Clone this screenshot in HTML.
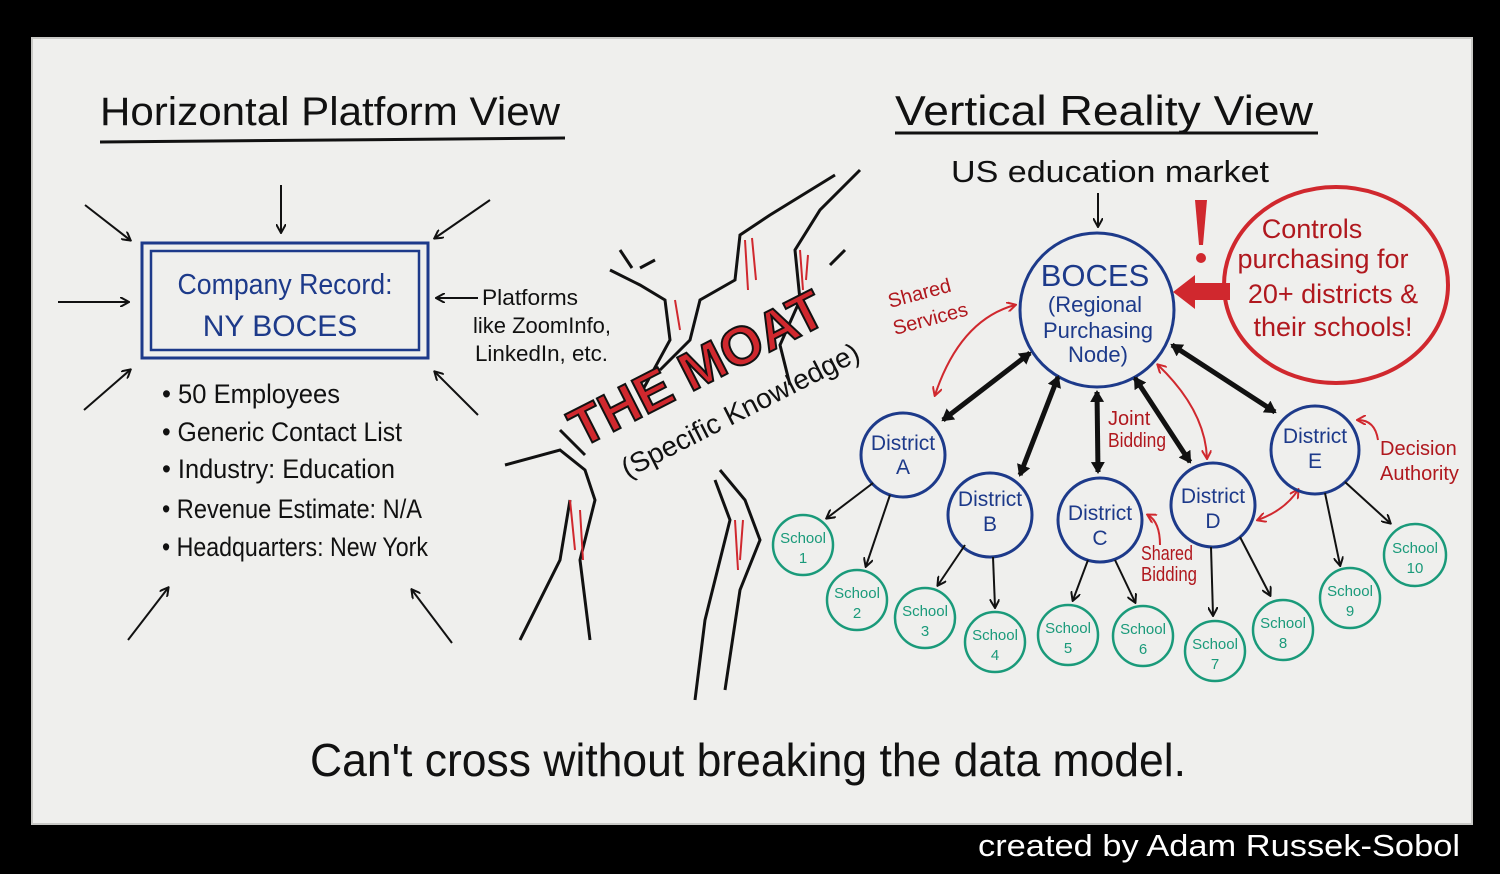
<!DOCTYPE html>
<html><head><meta charset="utf-8"><style>
html,body{margin:0;padding:0;background:#000;width:1500px;height:874px;overflow:hidden}
svg{display:block}
text{font-family:"Liberation Sans",sans-serif}
</style></head><body>
<svg width="1500" height="874" viewBox="0 0 1500 874" xmlns="http://www.w3.org/2000/svg">
<defs>
<marker id="ak" markerWidth="10" markerHeight="10" refX="8" refY="5" orient="auto" markerUnits="userSpaceOnUse"><path d="M0,0 L9,5 L0,10" fill="none" stroke="#111" stroke-width="2"/></marker>
<marker id="akb" markerWidth="14" markerHeight="14" refX="10" refY="7" orient="auto-start-reverse" markerUnits="userSpaceOnUse"><path d="M0,0 L12,7 L0,14 Z" fill="#111"/></marker>
<marker id="ar" markerWidth="10" markerHeight="10" refX="8" refY="5" orient="auto-start-reverse" markerUnits="userSpaceOnUse"><path d="M0,0 L9,5 L0,10" fill="none" stroke="#d0282e" stroke-width="2"/></marker>
</defs>
<rect x="32" y="38" width="1440" height="786" fill="#efefed"/>
<rect x="32" y="38" width="1440" height="786" fill="none" stroke="#c9c9c6" stroke-width="2"/>
<text x="978" y="856" font-size="31" fill="#fff" textLength="482" lengthAdjust="spacingAndGlyphs">created by Adam Russek-Sobol</text>

<!-- left -->
<text x="100" y="125" font-size="40" fill="#111" textLength="460" lengthAdjust="spacingAndGlyphs">Horizontal Platform View</text>
<line x1="100" y1="142" x2="565" y2="138" stroke="#111" stroke-width="3"/>
<rect x="142" y="243" width="286" height="115" fill="none" stroke="#1d3a8a" stroke-width="3"/>
<rect x="151" y="251" width="268" height="99" fill="none" stroke="#1d3a8a" stroke-width="2.5"/>
<text x="285" y="294" font-size="29" fill="#1d3a8a" text-anchor="middle" textLength="215" lengthAdjust="spacingAndGlyphs">Company Record:</text>
<text x="280" y="336" font-size="30" fill="#1d3a8a" text-anchor="middle">NY BOCES</text>
<g stroke="#111" stroke-width="2" marker-end="url(#ak)">
<line x1="281" y1="185" x2="281" y2="232"/>
<line x1="85" y1="205" x2="130" y2="240"/>
<line x1="58" y1="302" x2="128" y2="302"/>
<line x1="84" y1="410" x2="130" y2="370"/>
<line x1="490" y1="200" x2="435" y2="238"/>
<line x1="478" y1="298" x2="437" y2="298"/>
<line x1="478" y1="415" x2="435" y2="372"/>
<line x1="128" y1="640" x2="168" y2="588"/>
<line x1="452" y1="643" x2="412" y2="590"/>
</g>
<g font-size="22" fill="#111"><text x="482" y="305" textLength="96" lengthAdjust="spacingAndGlyphs">Platforms</text><text x="473" y="333" textLength="138" lengthAdjust="spacingAndGlyphs">like ZoomInfo,</text><text x="475" y="361" textLength="133" lengthAdjust="spacingAndGlyphs">LinkedIn, etc.</text></g>
<g font-size="27" fill="#111">
<text x="162" y="403" textLength="178" lengthAdjust="spacingAndGlyphs">• 50 Employees</text>
<text x="162" y="441" textLength="240" lengthAdjust="spacingAndGlyphs">• Generic Contact List</text>
<text x="162" y="478" textLength="233" lengthAdjust="spacingAndGlyphs">• Industry: Education</text>
<text x="162" y="518" textLength="260" lengthAdjust="spacingAndGlyphs">• Revenue Estimate: N/A</text>
<text x="162" y="556" textLength="266" lengthAdjust="spacingAndGlyphs">• Headquarters: New York</text>
</g>

<!-- moat cracks -->
<g fill="none" stroke="#111" stroke-width="3">
<path d="M860,170 L820,210 L795,250 L800,300 L780,345 L790,385"/>
<path d="M835,175 L770,215 L740,235 L735,280 L700,300 L690,340 L660,370"/>
<path d="M610,270 L640,285 L665,300 L670,340 L640,395"/>
<path d="M505,465 L560,450 L585,470 L595,500 L580,560 L590,640"/>
<path d="M520,640 L560,560 L570,500"/>
<path d="M720,470 L745,500 L760,540 L740,590 L725,690"/>
<path d="M695,700 L705,620 L730,520 L715,480"/>
<path d="M640,268 L655,260 M585,455 L560,430 M620,250 L632,268 M830,265 L845,250"/>
</g>
<g stroke="#d0282e" stroke-width="2">
<path d="M745,240 L748,290 M752,238 L756,280 M800,250 L803,290 M808,255 L806,280 M675,300 L680,330 M570,500 L575,550 M580,510 L583,560 M735,520 L738,570 M743,520 L740,560"/>
</g>
<g transform="translate(705,385) rotate(-27)">
<text x="0" y="0" font-size="54" font-weight="bold" fill="#d0282e" stroke="#111" stroke-width="2" text-anchor="middle">THE MOAT</text>
<text x="20" y="48" font-size="28" fill="#111" text-anchor="middle">(Specific Knowledge)</text>
</g>

<!-- right -->
<text x="895" y="125" font-size="42" fill="#111" textLength="418" lengthAdjust="spacingAndGlyphs">Vertical Reality View</text>
<line x1="895" y1="133" x2="1318" y2="133" stroke="#111" stroke-width="3"/>
<text x="1110" y="182" font-size="31" fill="#111" text-anchor="middle" textLength="318" lengthAdjust="spacingAndGlyphs">US education market</text>
<line x1="1098" y1="193" x2="1098" y2="226" stroke="#111" stroke-width="2" marker-end="url(#ak)"/>

<circle cx="1097" cy="310" r="77" fill="none" stroke="#1d3a8a" stroke-width="3"/>
<text x="1095" y="286" font-size="31" fill="#1d3a8a" text-anchor="middle">BOCES</text>
<g font-size="22" fill="#1d3a8a" text-anchor="middle"><text x="1095" y="312">(Regional</text><text x="1098" y="338">Purchasing</text><text x="1098" y="362">Node)</text></g>

<ellipse cx="1336" cy="285" rx="112" ry="98" fill="none" stroke="#d0282e" stroke-width="4"/>
<g font-size="27" fill="#b0181e" text-anchor="middle"><text x="1312" y="238">Controls</text><text x="1323" y="268">purchasing for</text><text x="1333" y="303">20+ districts &amp;</text><text x="1333" y="336">their schools!</text></g>
<path d="M1195,200 L1207,200 L1203,245 L1199,245 Z" fill="#d0282e"/><circle cx="1201" cy="258" r="5" fill="#d0282e"/>
<path d="M1230,283 L1195,283 L1195,275 L1173,292 L1195,309 L1195,300 L1230,300 Z" fill="#d0282e"/>

<g font-size="20" fill="#b0181e"><text x="890" y="308" transform="rotate(-15 890 308)">Shared</text><text x="895" y="335" transform="rotate(-15 895 335)">Services</text>
<text x="1108" y="425">Joint</text><text x="1108" y="447" textLength="58" lengthAdjust="spacingAndGlyphs">Bidding</text>
<text x="1141" y="560" textLength="52" lengthAdjust="spacingAndGlyphs">Shared</text><text x="1141" y="581" textLength="56" lengthAdjust="spacingAndGlyphs">Bidding</text>
<text x="1380" y="455">Decision</text><text x="1380" y="480">Authority</text></g>
<g fill="none" stroke="#d0282e" stroke-width="2" marker-end="url(#ar)" marker-start="url(#ar)">
<path d="M935,395 Q960,320 1015,305"/>
<path d="M1158,365 Q1205,410 1207,458"/>
<path d="M1258,520 Q1285,510 1298,490"/>
</g>
<g fill="none" stroke="#d0282e" stroke-width="2" marker-end="url(#ar)">
<path d="M1378,440 Q1375,420 1358,420"/><path d="M1160,545 Q1160,522 1148,515"/>
</g>

<g stroke="#111" stroke-width="5" marker-end="url(#akb)" marker-start="url(#akb)">
<line x1="1030" y1="353" x2="943" y2="420"/>
<line x1="1058" y1="377" x2="1020" y2="475"/>
<line x1="1097" y1="392" x2="1098" y2="472"/>
<line x1="1135" y1="378" x2="1190" y2="462"/>
<line x1="1172" y1="345" x2="1275" y2="412"/>
</g>

<g fill="none" stroke="#1d3a8a" stroke-width="3">
<circle cx="903" cy="455" r="42"/><circle cx="990" cy="515" r="42"/><circle cx="1100" cy="520" r="42"/><circle cx="1213" cy="505" r="42"/><circle cx="1315" cy="450" r="44"/>
</g>
<g font-size="21" fill="#1d3a8a" text-anchor="middle">
<text x="903" y="450">District</text><text x="903" y="474">A</text>
<text x="990" y="506">District</text><text x="990" y="531">B</text>
<text x="1100" y="520">District</text><text x="1100" y="545">C</text>
<text x="1213" y="503">District</text><text x="1213" y="528">D</text>
<text x="1315" y="443">District</text><text x="1315" y="468">E</text>
</g>

<g stroke="#111" stroke-width="2" marker-end="url(#ak)">
<line x1="873" y1="483" x2="827" y2="518"/><line x1="890" y1="495" x2="866" y2="566"/>
<line x1="965" y1="545" x2="938" y2="585"/><line x1="993" y1="557" x2="995" y2="607"/>
<line x1="1088" y1="560" x2="1073" y2="600"/><line x1="1115" y1="560" x2="1135" y2="602"/>
<line x1="1211" y1="547" x2="1213" y2="615"/><line x1="1240" y1="537" x2="1270" y2="595"/>
<line x1="1325" y1="493" x2="1340" y2="565"/><line x1="1345" y1="482" x2="1390" y2="523"/>
</g>
<g fill="none" stroke="#1a9a7a" stroke-width="2.5">
<circle cx="803" cy="545" r="30"/><circle cx="857" cy="600" r="30"/><circle cx="925" cy="618" r="30"/><circle cx="995" cy="642" r="30"/><circle cx="1068" cy="635" r="30"/><circle cx="1143" cy="636" r="30"/><circle cx="1215" cy="651" r="30"/><circle cx="1283" cy="630" r="30"/><circle cx="1350" cy="598" r="30"/><circle cx="1415" cy="555" r="31"/>
</g>
<g font-size="15" fill="#1a9a7a" text-anchor="middle">
<text x="803" y="543">School</text><text x="803" y="563">1</text>
<text x="857" y="598">School</text><text x="857" y="618">2</text>
<text x="925" y="616">School</text><text x="925" y="636">3</text>
<text x="995" y="640">School</text><text x="995" y="660">4</text>
<text x="1068" y="633">School</text><text x="1068" y="653">5</text>
<text x="1143" y="634">School</text><text x="1143" y="654">6</text>
<text x="1215" y="649">School</text><text x="1215" y="669">7</text>
<text x="1283" y="628">School</text><text x="1283" y="648">8</text>
<text x="1350" y="596">School</text><text x="1350" y="616">9</text>
<text x="1415" y="553">School</text><text x="1415" y="573">10</text>
</g>

<text x="310" y="776" font-size="46" fill="#111" textLength="876" lengthAdjust="spacingAndGlyphs">Can't cross without breaking the data model.</text>
</svg>
</body></html>
